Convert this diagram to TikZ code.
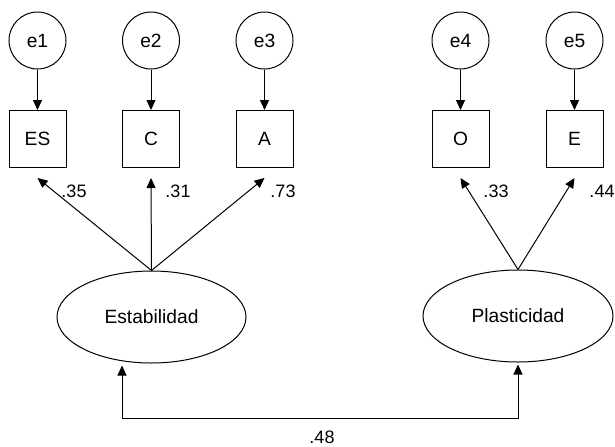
\documentclass[tikz,border=0pt]{standalone}
\usepackage{fontspec}
\setmainfont{Liberation Sans}
\usetikzlibrary{arrows.meta,shapes.geometric}
\begin{document}
\begin{tikzpicture}[x=0.5pt,y=-0.5pt,line width=0.5pt,>={Triangle[length=5pt,width=4.5pt]},
    err/.style={draw,circle,minimum size=28.5pt,inner sep=0pt,font=\fontsize{9.6}{11}\selectfont},
    obs/.style={draw,rectangle,minimum size=28.5pt,inner sep=0pt,font=\fontsize{9.6}{11}\selectfont},
    lat/.style={draw,ellipse,minimum width=94.5pt,minimum height=46pt,inner sep=0pt,font=\fontsize{9.6}{11}\selectfont},
    coef/.style={inner sep=1pt,font=\fontsize{9}{10}\selectfont}]
            \useasboundingbox (0,0) rectangle (615,446);
            \node [err] (e1) at (37.5,40.5) {e1};
            \node [err] (e2) at (151,40.5) {e2};
            \node [err] (e3) at (264.5,40.5) {e3};
            \node [err] (e4) at (460.5,40.5) {e4};
            \node [err] (e5) at (574.5,40.5) {e5};
            \node [obs] (es) at (37.5,139) {ES};
            \node [obs] (c) at (151,139) {C};
            \node [obs] (a) at (264.5,139) {A};
            \node [obs] (o) at (460.5,139) {O};
            \node [obs] (e) at (574.5,139) {E};
            \node [lat] (est) at (151.5,317) {Estabilidad};
            \node [lat, minimum width=95pt] (pla) at (518,316) {Plasticidad};
            % errores
            \foreach \u/\v in {e1/es,e2/c,e3/a,e4/o,e5/e}
                \draw [->] (\u) -- (\v);
            % cargas
            \foreach \v in {es,c,a}
                \draw [->] (est.north) -- ([yshift=-5pt]\v.south);
            \foreach \v in {o,e}
                \draw [->] (pla.north) -- ([yshift=-5pt]\v.south);
            \node [coef] (l1) at (74,191) {.35};
            \node [coef] (l2) at (178,191) {.31};
            \node [coef] (l3) at (283,191) {.73};
            \node [coef] (l4) at (496,191) {.33};
            \node [coef] (l5) at (602,191) {.44};
            % covarianza
            \coordinate (ta) at ([xshift=-14.75pt,yshift=-1pt]est.south);
            \coordinate (tb) at ([yshift=-1pt]pla.south);
            \coordinate (bot) at (0,418);
            \draw [<->] (ta) |- (bot -| tb) -- (tb);
            \node [coef] (r) at (322,437) {.48};
        \end{tikzpicture}
\end{document}
